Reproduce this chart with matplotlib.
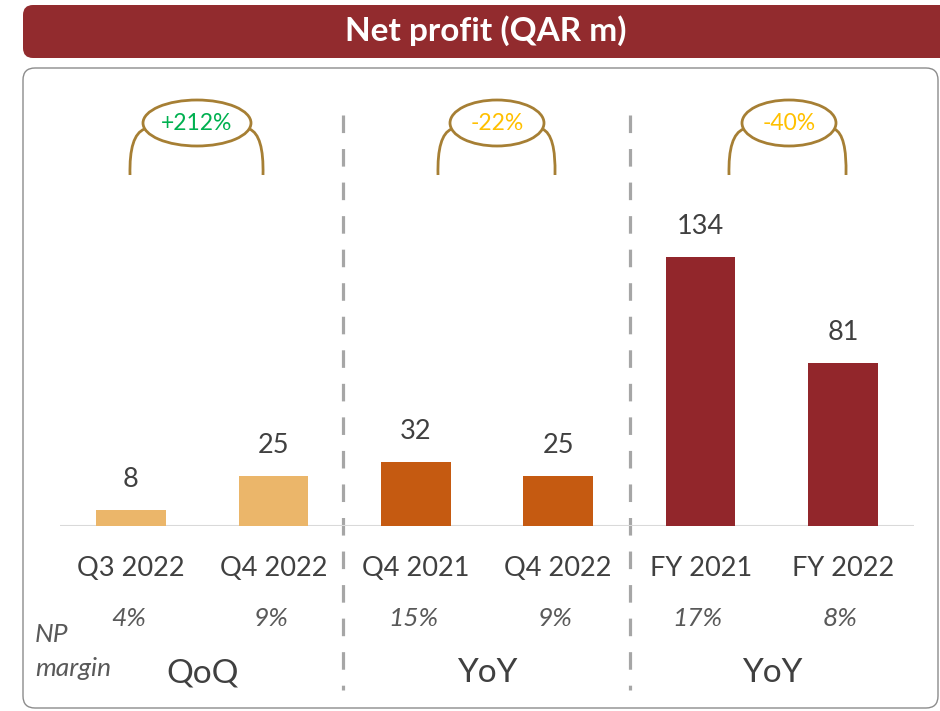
"""Net profit (QAR m) comparison panel."""

import matplotlib

matplotlib.use("Agg")

import matplotlib.pyplot as plt
from matplotlib.patches import Ellipse, FancyBboxPatch, PathPatch
from matplotlib.path import Path

# --- data -------------------------------------------------------------
periods = ["Q3 2022", "Q4 2022", "Q4 2021", "Q4 2022", "FY 2021", "FY 2022"]
net_profit = [8, 25, 32, 25, 134, 81]
np_margin = ["4%", "9%", "15%", "9%", "17%", "8%"]
groups = ["QoQ", "YoY", "YoY"]
changes = ["+212%", "-22%", "-40%"]

# --- styles -----------------------------------------------------------
bar_colors = ["#EBB66A", "#EBB66A", "#C55A11", "#C55A11", "#92262B", "#92262B"]
change_colors = ["#00B050", "#FFC000", "#FFC000"]
DARK = "#404040"
GREY = "#595959"
GOLD = "#A67F34"
FONT = "Lato"

W, H = 940, 711
fig = plt.figure(figsize=(W / 100, H / 100), dpi=100)

# background layer in pixel coordinates
bg = fig.add_axes([0, 0, 1, 1], zorder=0)
bg.set_xlim(0, W)
bg.set_ylim(H, 0)
bg.axis("off")

bg.add_patch(FancyBboxPatch((23, 68), 915, 640, boxstyle="round,pad=0,rounding_size=12",
                            fc="white", ec="#8C8C8C", lw=1.0))
bg.add_patch(FancyBboxPatch((23, 5), 960, 53, boxstyle="round,pad=0,rounding_size=10",
                            fc="#922B2E", ec="none"))
bg.text(486, 31, "Net profit (QAR m)", color="white", fontsize=24, fontweight="bold",
        family=FONT, ha="center", va="center")

# dashed separators between the three pairs
for sx in (343, 630):
    bg.plot([sx, sx], [115, 690], color="#A6A6A6", lw=2.3, ls=(0, (5.5, 5)),
            solid_capstyle="butt")

# brackets with change labels: (centre x, ellipse width, left leg, right leg)
brackets = [(197, 108, 130, 263), (497, 94, 438, 555), (789, 94, 729, 846)]
ey, eh, leg_bottom = 123, 46, 175
for (cx, ew, lx, rx), txt, col in zip(brackets, changes, change_colors):
    for side, leg in ((-1, lx), (1, rx)):
        sx0 = cx + side * (ew / 2 - 1.5)
        verts = [(sx0, ey + 6), (leg + side * 1, ey + 12), (leg, leg_bottom)]
        bg.add_patch(PathPatch(Path(verts, [Path.MOVETO, Path.CURVE3, Path.CURVE3]),
                               fc="none", ec=GOLD, lw=2.0))
    bg.add_patch(Ellipse((cx, ey), ew, eh, fc="white", ec=GOLD, lw=2.0))
    bg.text(cx, ey, txt, color=col, fontsize=16.5, family=FONT, ha="center", va="center")

bg.text(35, 635, "NP", color=GREY, fontsize=19, style="italic", family=FONT, va="center")
bg.text(35, 668, "margin", color=GREY, fontsize=19, style="italic", family=FONT, va="center")

# bar layer: bar centres 142.4 px apart, baseline at y = 526 px
px_per_unit = 2.007
ax = fig.add_axes([59.8 / W, 185 / H, 854.4 / W, 458 / H], zorder=1)
ax.patch.set_alpha(0)
ax.axis("off")
x = list(range(len(periods)))
ax.bar(x, net_profit, width=0.49, color=bar_colors)
ax.set_xlim(-0.5, len(periods) - 0.5)
ax.set_ylim(0, 458 / px_per_unit)
ax.axhline(0, color="#D9D9D9", lw=1.5, zorder=0)

for i, v in enumerate(net_profit):
    ax.annotate(f"{v}", (i, v), xytext=(0, 22), textcoords="offset points",
                ha="center", va="center", fontsize=19.5, color=DARK, family=FONT)
    ax.annotate(periods[i], (i, 0), xytext=(0, -30.5), textcoords="offset points",
                ha="center", va="center", fontsize=19.5, color=DARK, family=FONT)
    ax.annotate(np_margin[i], (i, 0), xytext=(-2, -66.5), textcoords="offset points",
                ha="center", va="center", fontsize=19, color=GREY, style="italic",
                family=FONT)

for g, name in enumerate(groups):
    ax.annotate(name, (2 * g + 0.5, 0), xytext=(0, -106), textcoords="offset points",
                ha="center", va="center", fontsize=24, color=DARK, family=FONT)

fig.savefig("out.png", dpi=100)
